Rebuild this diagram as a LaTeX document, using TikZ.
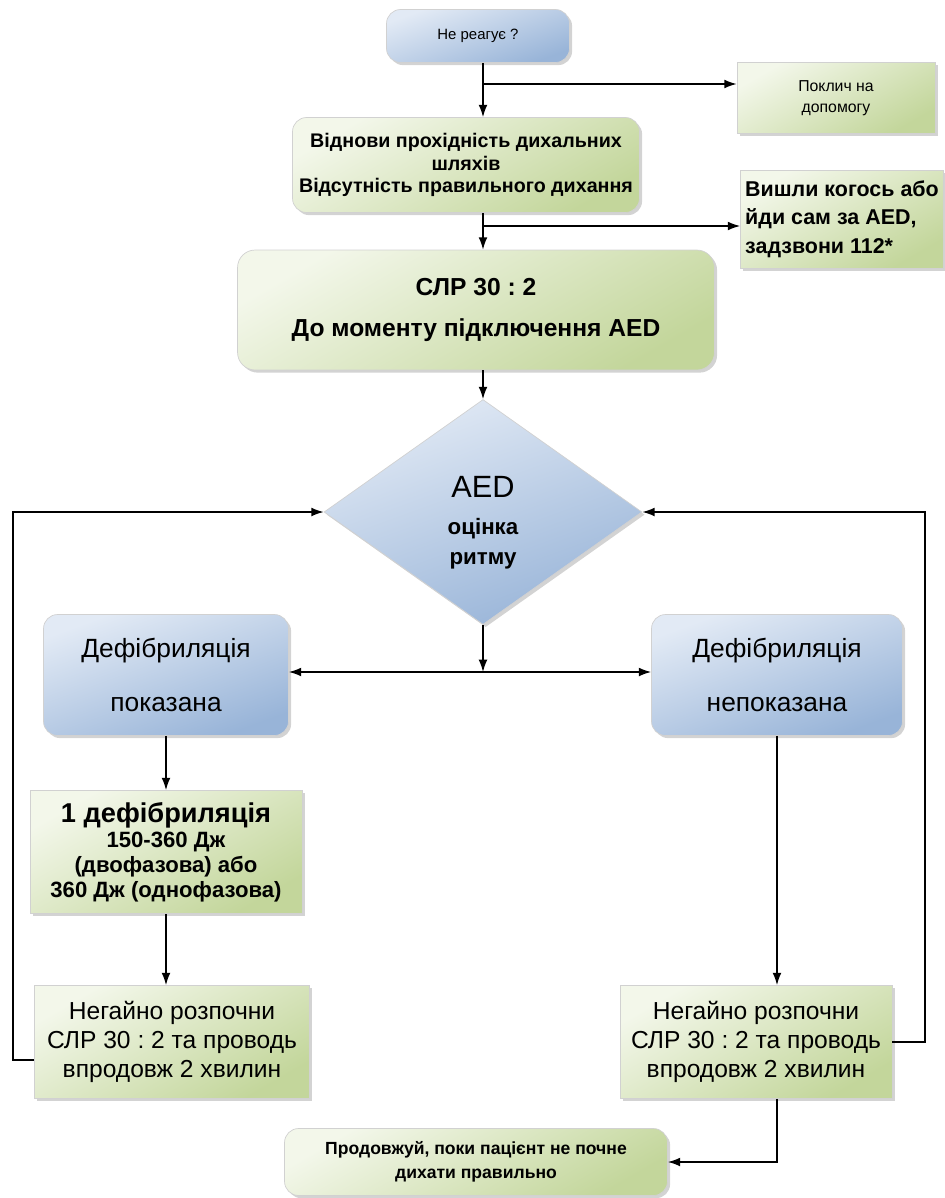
\documentclass[tikz,border=0pt]{standalone}
\usepackage{fontspec}
\setmainfont{Liberation Sans}
\usepackage{xcolor}
\usetikzlibrary{arrows.meta, shapes.geometric, shadows}
\definecolor{greenLight}{HTML}{F3F7EA}
\definecolor{greenDark}{HTML}{C3D69B}
\definecolor{blueLight}{HTML}{E2EAF5}
\definecolor{blueDark}{HTML}{98B4D8}
\frenchspacing

\begin{document}
\begin{tikzpicture}[x=0.02cm, y=-0.02cm,
    box/.style={draw=black!18, align=center, inner sep=2pt,
        drop shadow={opacity=0.35, shadow xshift=1.5pt, shadow yshift=-1.5pt}},
    greenbox/.style={box, top color=greenLight, bottom color=greenDark, shading angle=30},
    bluebox/.style={box, top color=blueLight, bottom color=blueDark, shading angle=20, rounded corners=8pt},
    arr/.style={-{Latex[length=7pt, width=5pt]}, thick}]
    \useasboundingbox (0,0) rectangle (945,1198);
    \coordinate (spine) at (483,0);

    \node[bluebox, minimum width=3.66cm, minimum height=1.06cm, font=\fontsize{8.5}{10}\selectfont] (react) at (478,36) {Не реагує ?};
    \node[greenbox, minimum width=3.96cm, minimum height=1.42cm, font=\fontsize{9}{12}\selectfont] (callhelp) at (836,98) {Поклич на\\допомогу};
    \node[greenbox, rounded corners=8pt, minimum width=6.94cm, minimum height=1.9cm, font=\bfseries\fontsize{11.2}{13}\selectfont] (airway) at (466,165)
        {Віднови прохідність дихальних\\шляхів\\Відсутність правильного дихання};
    \node[greenbox, minimum width=4.06cm, minimum height=1.96cm, align=left, font=\bfseries\fontsize{12.2}{16.2}\selectfont] (send) at (842,219)
        {Вишли когось або\\йди сам за AED,\\задзвони 112*};
    \node[greenbox, rounded corners=10pt, minimum width=9.54cm, minimum height=2.4cm, font=\bfseries\fontsize{14}{23}\selectfont] (cpr) at (476,310)
        {СЛР 30 : 2\\До моменту підключення AED};
    \node[diamond, box, top color=blueLight, bottom color=blueDark, shading angle=20, aspect=1.41, inner sep=0pt,
        minimum width=6.36cm, minimum height=4.5cm, font=\bfseries\fontsize{12.7}{17}\selectfont] (aed) at (483,512)
        {\rule{0pt}{24pt}{\mdseries\fontsize{17.5}{20}\selectfont AED}\\[4pt]оцінка\\ритму};
    \node[bluebox, minimum width=4.9cm, minimum height=2.42cm, font=\fontsize{15}{18}\selectfont] (shock) at (166,675)
        {Дефібриляція\\[13pt]показана};
    \node[bluebox, minimum width=5.02cm, minimum height=2.42cm, font=\fontsize{15}{18}\selectfont] (noshock) at (777,675)
        {Дефібриляція\\[13pt]непоказана};
    \node[greenbox, minimum width=5.44cm, minimum height=2.46cm, font=\bfseries\fontsize{12.6}{14.2}\selectfont] (defib) at (166,852)
        {{\fontsize{15.5}{18}\selectfont 1 дефібриляція}\\150-360 Дж\\(двофазова) або\\360 Дж (однофазова)};
    \node[greenbox, minimum width=5.5cm, minimum height=2.26cm, font=\fontsize{14}{16.5}\selectfont] (cprL) at (172,1042)
        {Негайно розпочни\\СЛР 30 : 2 та проводь\\впродовж 2 хвилин};
    \node[greenbox, minimum width=5.44cm, minimum height=2.26cm, font=\fontsize{14}{16.5}\selectfont] (cprR) at (756,1042)
        {Негайно розпочни\\СЛР 30 : 2 та проводь\\впродовж 2 хвилин};
    \node[greenbox, rounded corners=8pt, minimum width=7.66cm, minimum height=1.34cm, font=\bfseries\fontsize{10}{13.6}\selectfont] (cont) at (476,1162)
        {Продовжуй, поки пацієнт не почне\\дихати правильно};

    \coordinate (b1) at (483,84);
    \coordinate (b2) at (483,226);
    \coordinate (b3) at (483,672);
    \coordinate (loopL) at (13,512);
    \coordinate (loopR) at (925,512);

    \draw[arr] (react.south -| spine) -- (airway.north -| spine);
    \draw[arr] (b1) -- (b1 -| callhelp.west);
    \draw[arr] (airway.south -| spine) -- (cpr.north -| spine);
    \draw[arr] (b2) -- (b2 -| send.west);
    \draw[arr] (cpr.south -| spine) -- (aed.north);
    \draw[arr] (aed.south) -- (b3);
    \draw[{Latex[length=7pt, width=5pt]}-{Latex[length=7pt, width=5pt]}, thick] (b3 -| shock.east) -- (b3 -| noshock.west);
    \draw[arr] (shock.south) -- (shock.south |- defib.north);
    \draw[arr] (defib.south) -- (defib.south |- cprL.north);
    \draw[arr] (noshock.south) -- (noshock.south |- cprR.north);
    \draw[arr] ([yshift=-0.36cm]cprL.west) -| (loopL) -- (aed.west);
    \draw[arr] (cprR.east) -| (loopR) -- (aed.east);
    \draw[arr] (cprR.south -| noshock.south) |- (cont.east);
\end{tikzpicture}
\end{document}
